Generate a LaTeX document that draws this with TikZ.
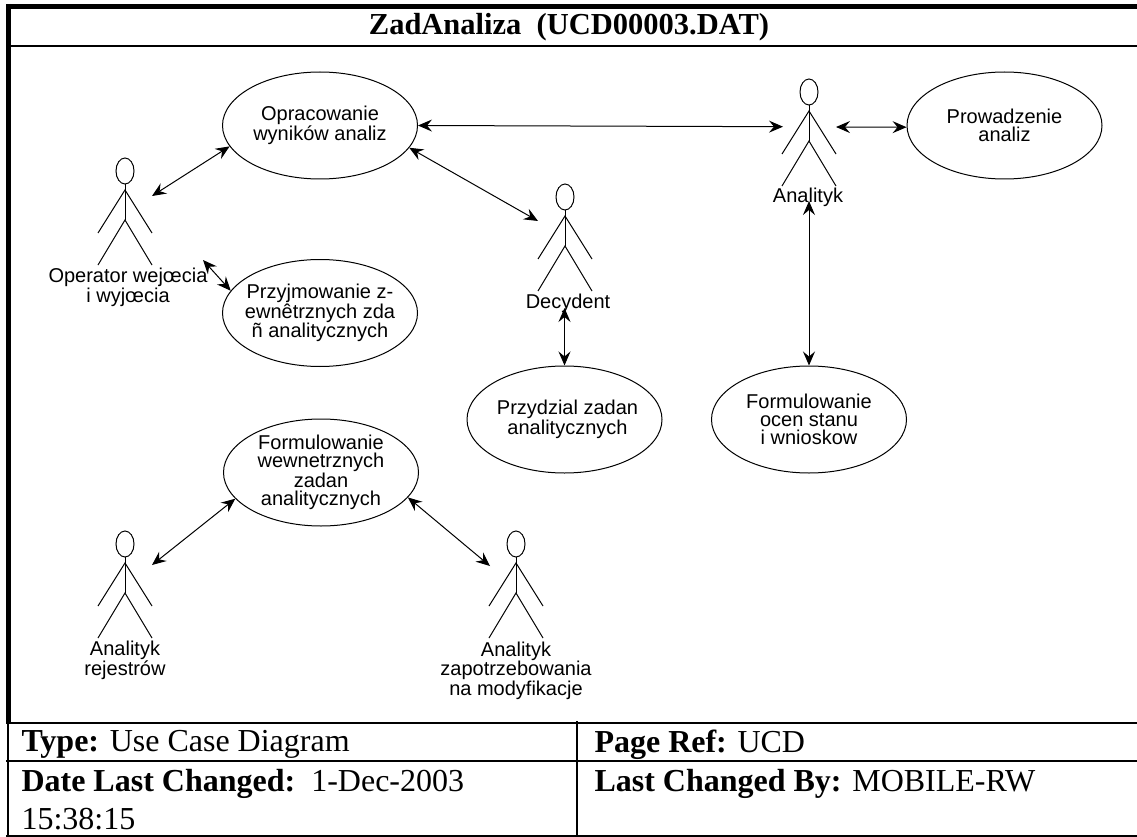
\documentclass[tikz,border=0pt]{standalone}
\usepackage{fontspec}
\setmainfont{Liberation Serif}
\newfontfamily\labelfont{Liberation Sans}
\usetikzlibrary{arrows.meta,shapes.geometric}
\tikzset{
	usecase/.style={draw, ellipse, inner xsep=-14pt, inner ysep=0pt, minimum width=195pt, minimum height=107pt, align=center, font=\labelfont\fontsize{20}{18}\selectfont},
	actorname/.style={anchor=north, align=center, inner sep=0pt, font=\labelfont\fontsize{20}{18}\selectfont},
	assoc/.style={<->, >={Stealth[length=14pt,width=12pt,inset=5pt]}, line width=1pt},
	cell/.style={anchor=west, inner sep=0pt, font=\fontsize{32}{36}\selectfont}
}
\def\actor(#1,#2){
	\draw (#1, #2+13) ellipse (9 and 13);
	\draw (#1, #2+26) -- (#1, #2+62);
	\draw (#1-27, #2+75) -- (#1, #2+32) -- (#1+27, #2+75);
	\draw (#1-27, #2+107) -- (#1, #2+62) -- (#1+27, #2+107);
}

\begin{document}
\begin{tikzpicture}[x=1pt, y=-1pt, line width=1pt]
	\useasboundingbox (0, 0) rectangle (1137, 837);
	
	%%%%% frame %%%%%
	\fill[white] (0, 0) rectangle (1137, 837);
	\draw[line width=5pt] (6, 6.5) -- (1137, 6.5);
	\draw[line width=5pt] (8.5, 4) -- (8.5, 723);
	\draw[line width=2pt] (6, 46) -- (1137, 46);
	\draw[line width=2.5pt] (6, 723) -- (1137, 723);
	\draw[line width=2pt] (6, 761) -- (1137, 761);
	\draw[line width=1.5pt] (6, 836) -- (1137, 836);
	\draw[line width=1.5pt] (8, 723) -- (8, 836);
	\draw[line width=1.5pt] (577, 721) -- (577, 836);
	
	%%%%% title and table %%%%%
	\node[inner sep=0pt, font=\bfseries\fontsize{30.5}{34}\selectfont] (title) at (569, 27) {ZadAnaliza\ \ (UCD00003.DAT)};
	\node[cell] (type) at (21, 744.5) {\textbf{Type:} Use Case Diagram};
	\node[cell] (pageref) at (594, 744.5) {\textbf{Page Ref:} UCD};
	\node[cell] (changed) at (21, 784) {\textbf{Date Last Changed:}\ \ 1-Dec-2003};
	\node[cell] (stamp) at (21, 819) {15:38:15};
	\node[cell] (changedby) at (594, 784) {\textbf{Last Changed By:} MOBILE-RW};
	
	%%%%% use cases %%%%%
	\node[usecase] (opracowanie) at (320, 125.5) {Opracowanie\\wyników analiz};
	\node[usecase] (przyjmowanie) at (320, 313) {Przyjmowanie z-\\ewnêtrznych zda\\ñ analitycznych};
	\node[usecase] (prowadzenie) at (1004.5, 125.5) {Prowadzenie\\analiz};
	\node[usecase] (przydzial) at (564.5, 419.5) {\hspace*{6pt}Przydzial zadan\\\hspace*{6pt}analitycznych};
	\node[usecase] (ocena) at (809, 419.5) {Formulowanie\\ocen stanu\\i wnioskow};
	\node[usecase] (wewnetrzne) at (321, 472.5) {Formulowanie\\wewnetrznych\\zadan\\analitycznych};
	
	%%%%% actors %%%%%
	\actor(125,158)
	\actor(809,79)
	\actor(565,184)
	\actor(125,531)
	\actor(516,531)
	
	\node[actorname] (operator) at (128, 268) {Operator wejœcia\\i wyjœcia};
	\node[actorname] (analityk) at (808, 188) {Analityk};
	\node[actorname] (decydent) at (568, 294) {Decydent};
	\node[actorname] (rejestry) at (125, 641) {Analityk\\rejestrów};
	\node[actorname] (zapotrzebowanie) at (516, 641) {Analityk\\zapotrzebowania\\na modyfikacje};
	
	%%%%% associations %%%%%
	\coordinate (operatorup) at (152, 196);
	\coordinate (operatordown) at (203, 260);
	\coordinate (analitykleft) at (783, 126.7);
	\coordinate (analitykright) at (836, 127);
	\coordinate (analitykdown) at (809, 201);
	\coordinate (decydentup) at (538, 221);
	\coordinate (decydentdown) at (564.5, 308);
	\coordinate (rejestryup) at (152, 565);
	\coordinate (zapotrzebowanieup) at (490, 566);
	
	\draw[assoc] (operatorup) -- (opracowanie.193.4);
	\draw[assoc] (operatordown) -- (przyjmowanie.166);
	\draw[assoc] (opracowanie.-0.7) -- (analitykleft);
	\draw[assoc] (analitykright) -- (prowadzenie.181);
	\draw[assoc] (opracowanie.-14) -- (decydentup);
	\draw[assoc] (decydentdown) -- (przydzial.north);
	\draw[assoc] (analitykdown) -- (ocena.north);
	\draw[assoc] (rejestryup) -- (wewnetrzne.197.1);
	\draw[assoc] (wewnetrzne.-16.5) -- (zapotrzebowanieup);
\end{tikzpicture}
\end{document}
